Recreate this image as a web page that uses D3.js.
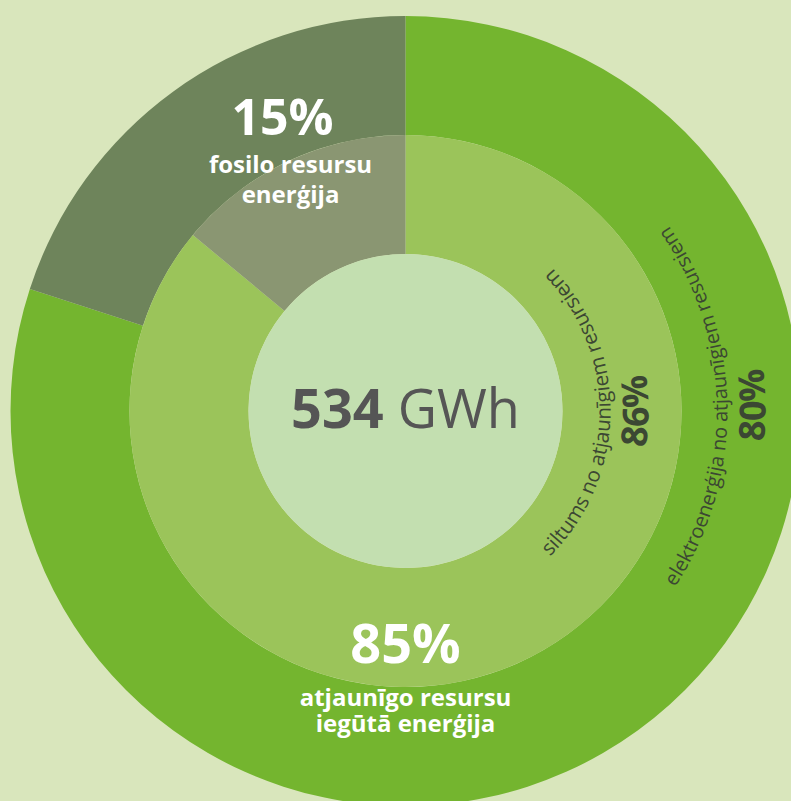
<!DOCTYPE html>
<html>
<head>
<meta charset="utf-8">
<script src="https://cdn.jsdelivr.net/npm/d3@7"></script>
<style>
  body { margin: 0; background: #d9e6bc; }
  svg { display: block; font-family: 'Open Sans', sans-serif; }
</style>
</head>
<body>
<div id="chart"></div>
<script>
// data
const totalValue = 534;
const totalUnit = 'GWh';

const totalCats = ['atjaunīgo resursu iegūtā enerģija', 'fosilo resursu enerģija'];
const totalShares = [85, 15];

const outerCats = ['elektroenerģija no atjaunīgiem resursiem', 'fosilā elektroenerģija'];
const outerValues = [80, 20];

const innerCats = ['siltums no atjaunīgiem resursiem', 'fosilais siltums'];
const innerValues = [86, 14];

// svg container
const svgWidth = 791, svgHeight = 801;
const cx = 405.5, cy = 411;

const svg = d3.select('#chart').append('svg')
    .attr('width', svgWidth)
    .attr('height', svgHeight);

svg.append('rect')
    .attr('width', svgWidth)
    .attr('height', svgHeight)
    .attr('fill', '#d9e6bc');

const g = svg.append('g')
    .attr('transform', `translate(${cx}, ${cy})`);

const pie = d3.pie().sort(null);

// outer ring
const outerArc = d3.arc().innerRadius(276).outerRadius(395);
const outerColors = ['#74b52f', '#6e845b'];
g.selectAll('path.outer')
    .data(pie(outerValues))
    .enter()
    .append('path')
    .attr('class', 'outer')
    .attr('d', outerArc)
    .attr('fill', (d, i) => outerColors[i]);

// inner ring
const innerArc = d3.arc().innerRadius(157).outerRadius(276);
const innerColors = ['#9bc45a', '#8a9672'];
g.selectAll('path.inner')
    .data(pie(innerValues))
    .enter()
    .append('path')
    .attr('class', 'inner')
    .attr('d', innerArc)
    .attr('fill', (d, i) => innerColors[i]);

// centre disc
g.append('circle')
    .attr('r', 157)
    .attr('fill', '#c3dfb0');

// total in the middle
const totalText = g.append('text')
    .attr('y', 17)
    .attr('text-anchor', 'middle')
    .attr('fill', '#555555')
    .style('font-size', '54px');
totalText.append('tspan').attr('font-weight', 700).text(totalValue);
totalText.append('tspan').text(' ' + totalUnit);

// curved labels on the right side, running upwards
const arcPath = (r, tilt) => {
    const a1 = (75 - tilt) * Math.PI / 180, a2 = (-75 - tilt) * Math.PI / 180;
    return `M${r * Math.cos(a1)},${r * Math.sin(a1)} A${r},${r} 0 0 0 ${r * Math.cos(a2)},${r * Math.sin(a2)}`;
};

const curved = [
    { id: 'p-inner-txt', r: 205, tilt: -0.5, text: innerCats[0], size: 20.6, weight: 400 },
    { id: 'p-inner-pct', r: 243, tilt: 0, text: innerValues[0] + '%', size: 36, weight: 700 },
    { id: 'p-outer-txt', r: 322, tilt: 1, text: outerCats[0], size: 20, weight: 400 },
    { id: 'p-outer-pct', r: 360, tilt: 1, text: outerValues[0] + '%', size: 36, weight: 700 }
];

const defs = g.append('defs');
curved.forEach(c => {
    defs.append('path')
        .attr('id', c.id)
        .attr('d', arcPath(c.r, c.tilt));
    g.append('text')
        .attr('fill', '#3b4733')
        .attr('font-weight', c.weight)
        .style('font-size', c.size + 'px')
        .append('textPath')
        .attr('href', '#' + c.id)
        .attr('startOffset', '50%')
        .attr('text-anchor', 'middle')
        .text(c.text);
});

// white labels for the overall split
const fossil = g.append('text')
    .attr('text-anchor', 'middle')
    .attr('fill', '#ffffff')
    .attr('font-weight', 700);
fossil.append('tspan').attr('x', -123).attr('y', -276).style('font-size', '50px').text(totalShares[1] + '%');
fossil.append('tspan').attr('x', -115).attr('y', -238).style('font-size', '24px').text('fosilo resursu');
fossil.append('tspan').attr('x', -115).attr('y', -208).style('font-size', '24px').text('enerģija');

const renew = g.append('text')
    .attr('text-anchor', 'middle')
    .attr('fill', '#ffffff')
    .attr('font-weight', 700);
renew.append('tspan').attr('x', 0).attr('y', 252).style('font-size', '54px').text(totalShares[0] + '%');
renew.append('tspan').attr('x', 0).attr('y', 295).style('font-size', '24px').text('atjaunīgo resursu');
renew.append('tspan').attr('x', 0).attr('y', 321).style('font-size', '24px').text('iegūtā enerģija');
</script>
</body>
</html>
